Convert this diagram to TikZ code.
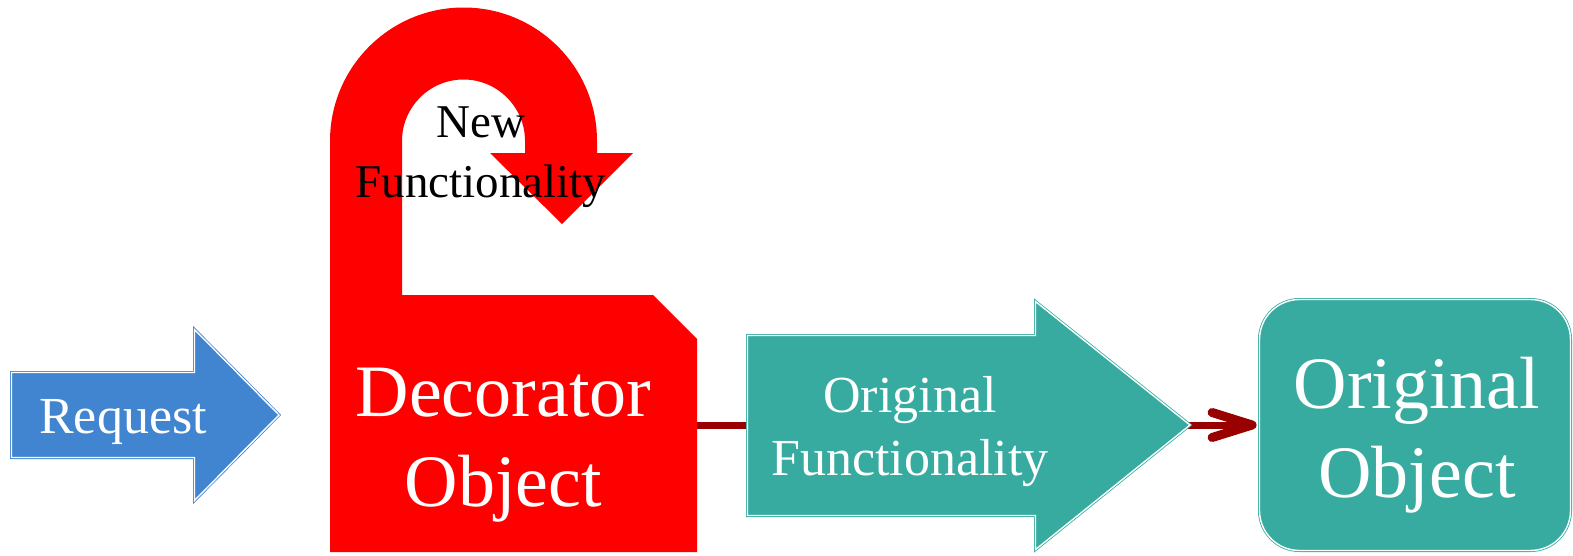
\documentclass[tikz,border=0pt]{standalone}
\usepackage{fontspec}
\setmainfont{Liberation Serif}
\definecolor{reqblue}{RGB}{65,132,208}
\definecolor{tealc}{RGB}{55,171,160}
\definecolor{decored}{RGB}{255,0,0}
\definecolor{connred}{RGB}{153,0,0}
\begin{document}
\begin{tikzpicture}[x=1pt,y=-1pt,
  dbl/.style={line width=0.8pt, double distance=1.4pt, double=white},
  reqshape/.style={fill=reqblue, draw=reqblue, dbl},
  tealshape/.style={fill=tealc, draw=tealc, dbl},
  decoshape/.style={fill=decored, draw=none},
  wlabel/.style={text=white, align=center, inner sep=0pt},
  blabel/.style={text=black, align=center, inner sep=0pt},
  connline/.style={draw=connred, line width=7pt, shorten >=8pt},
  barb/.style={draw=connred, line width=9pt, line cap=round, line join=round}
]
\useasboundingbox (0,0) rectangle (1573,555);

% Request arrow
\path[reqshape] (11.5,372.5) -- (194.5,372.5) -- (194.5,329.5) -- (279,415)
  -- (194.5,500.5) -- (194.5,457.5) -- (11.5,457.5) -- cycle;
\node[wlabel, anchor=base, font=\fontsize{52}{62}\selectfont] (req) at (123,433) {Request};

% Decorator object with U-turn arrow
\path[decoshape] (330,552) -- (330,141) arc[start angle=180, end angle=360, radius=133.5]
  -- (597,153) -- (633,153) -- (562,224) -- (490,153) -- (525,153) -- (525,141)
  arc[start angle=360, end angle=180, radius=61.5]
  -- (402,295) -- (653,295) -- (697,339) -- (697,552) -- cycle;
\coordinate (decoR) at (697,425);
\node[blabel, font=\fontsize{47}{60}\selectfont] (newf) at (481,157.6) {New\\Functionality};
\node[wlabel, font=\fontsize{74}{90}\selectfont] (deco) at (503.5,445.5) {Decorator\\Object};

% Original object box
\node[tealshape, rectangle, rounded corners=40pt, minimum width=311pt, minimum height=251pt,
  inner sep=0pt] (orig) at (1415,425) {};

% connector with open arrowhead
\draw[connline] (decoR) -- (orig.west);
\draw[barb] ([shift={(-47,-12.5)}]orig.west) -- ([shift={(-7,0)}]orig.west)
  -- ([shift={(-47,12.5)}]orig.west);

% Original functionality arrow
\path[tealshape] (747.5,335.5) -- (1035.5,335.5) -- (1035.5,301.5) -- (1190,425)
  -- (1035.5,549.5) -- (1035.5,515.5) -- (747.5,515.5) -- cycle;
\node[wlabel, font=\fontsize{52}{63}\selectfont] (origf) at (910,431.4) {Original\\Functionality};

\node[wlabel, font=\fontsize{74}{89}\selectfont] (origtxt) at (1417,435.3) {Original\\Object};
\end{tikzpicture}
\end{document}
